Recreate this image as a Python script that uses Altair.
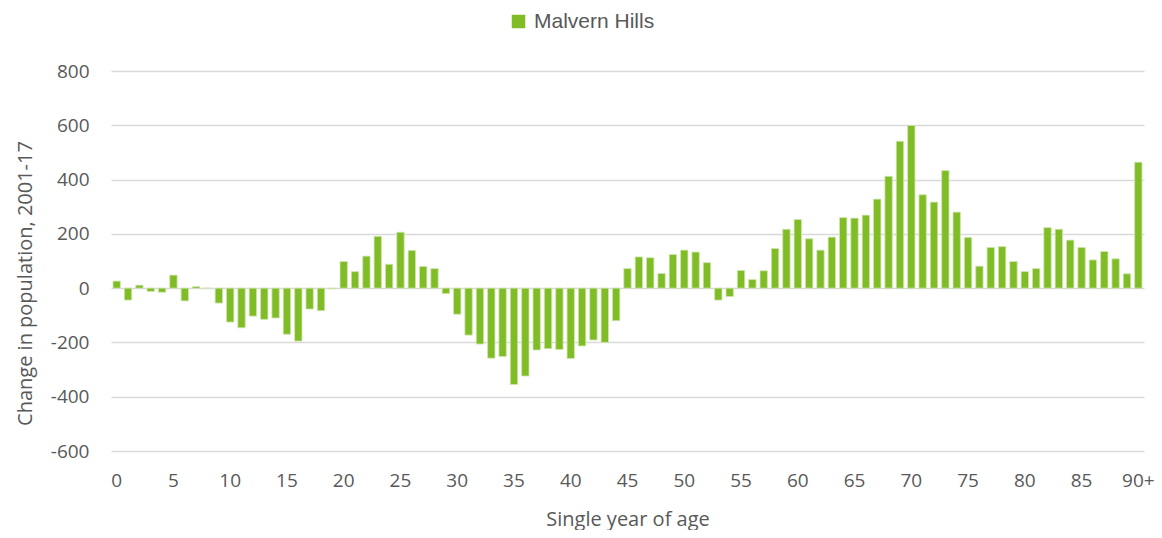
import altair as alt
import pandas as pd

ages = [str(i) for i in range(90)] + ["90+"]
changes = [
    26, -44, 11, -12, -15, 48, -47, 6, 0, -55,
    -125, -146, -103, -115, -110, -170, -195, -77, -83, -2,
    98, 61, 118, 191, 88, 206, 139, 80, 72, -20,
    -96, -173, -206, -258, -252, -355, -324, -228, -223, -226,
    -259, -213, -191, -200, -120, 72, 115, 112, 54, 124,
    140, 133, 94, -44, -31, 65, 32, 64, 146, 217,
    253, 182, 140, 188, 260, 258, 269, 328, 412, 541,
    599, 344, 317, 433, 280, 187, 81, 150, 153, 98,
    61, 72, 223, 217, 177, 150, 104, 135, 108, 53,
    464,
]
series_name = "Malvern Hills"
tick_labels = [str(i) for i in range(0, 90, 5)] + ["90+"]
y_ticks = [-600, -400, -200, 0, 200, 400, 600, 800]

df = pd.DataFrame({"age": ages, "change": changes, "series": [series_name] * len(ages)})

FONT = "Open Sans"
LEGEND_FONT = "Liberation Sans"
GREY = "#595959"

chart = (
    alt.Chart(df)
    .mark_bar(stroke="#cfe6b0", strokeWidth=0.8)
    .encode(
        x=alt.X(
            "age:N",
            sort=ages,
            scale=alt.Scale(paddingInner=0.35, paddingOuter=0.175),
            axis=alt.Axis(
                values=tick_labels,
                title="Single year of age",
                labelAngle=0,
                labelFont=FONT,
                labelFontSize=19,
                labelColor=GREY,
                labelPadding=20,
                titleFont=FONT,
                titleFontSize=20,
                titleFontWeight="normal",
                titleColor=GREY,
                titleBaseline="middle",
                titleY=68,
                domain=False,
                ticks=False,
                grid=False,
            ),
        ),
        y=alt.Y(
            "change:Q",
            scale=alt.Scale(domain=[-600, 800], nice=False),
            axis=alt.Axis(
                values=y_ticks,
                title="Change in population, 2001-17",
                labelExpr="datum.value < 0 ? '-' + abs(datum.value) : '' + datum.value",
                labelFont=FONT,
                labelFontSize=19,
                labelColor=GREY,
                labelPadding=22,
                titleFont=FONT,
                titleFontSize=20,
                titleFontWeight="normal",
                titleColor=GREY,
                titleBaseline="middle",
                titleX=-86,
                titleY=212,
                domain=False,
                ticks=False,
                grid=True,
                gridColor="#D9D9D9",
                gridWidth=1.5,
            ),
        ),
        color=alt.Color(
            "series:N",
            scale=alt.Scale(domain=[series_name], range=["#80BC26"]),
            legend=alt.Legend(
                title=None,
                orient="none",
                legendX=397,
                legendY=-60,
                symbolType="square",
                symbolSize=182,
                symbolStrokeWidth=0,
                labelFont=LEGEND_FONT,
                labelFontSize=21,
                labelColor=GREY,
                labelOffset=5,
                padding=0,
            ),
        ),
    )
    .properties(
        width=1033,
        height=380,
        padding={"left": 103, "top": 63, "right": 10, "bottom": 79},
        autosize=alt.AutoSizeParams(type="none"),
    )
    .configure_view(stroke=None)
)

chart.save("out.html", embed_options={"renderer": "svg", "actions": False})
